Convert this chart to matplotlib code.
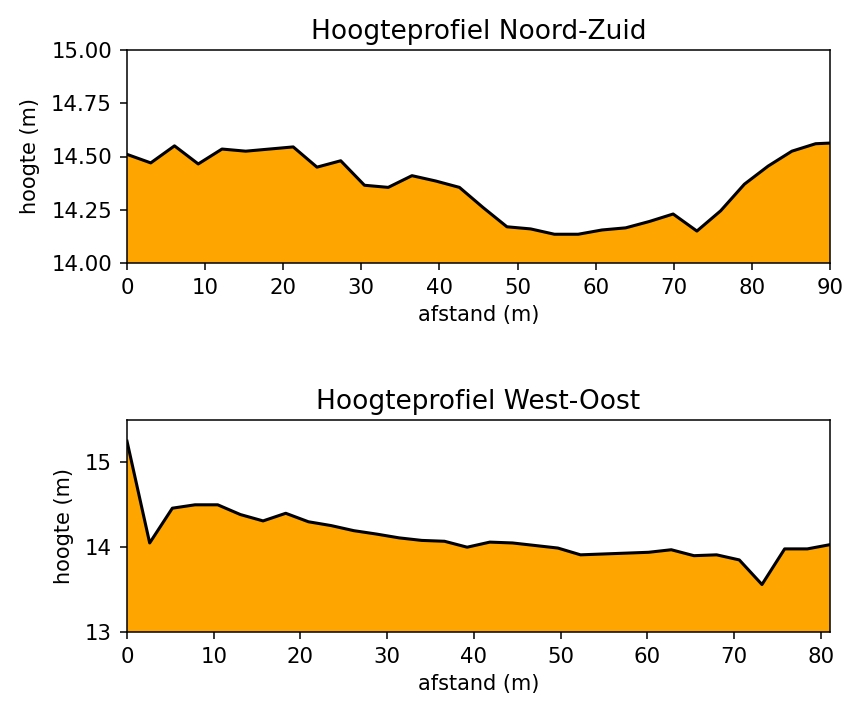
import numpy as np
import matplotlib
matplotlib.use("Agg")
import matplotlib.pyplot as plt

# Noord-Zuid profile
nz_step = 3.04
nz_height = [14.51, 14.47, 14.55, 14.465, 14.535, 14.525, 14.535, 14.545, 14.45, 14.48,
             14.365, 14.355, 14.41, 14.385, 14.355, 14.26, 14.17, 14.16, 14.135, 14.135,
             14.155, 14.165, 14.195, 14.23, 14.15, 14.245, 14.37, 14.455, 14.525, 14.56, 14.565]
nz_dist = [i * nz_step for i in range(len(nz_height))]

# West-Oost profile
wo_step = 2.615
wo_height = [15.25, 14.05, 14.46, 14.50, 14.50, 14.385, 14.31, 14.40, 14.30, 14.255,
             14.195, 14.155, 14.11, 14.08, 14.07, 14.00, 14.06, 14.05, 14.02, 13.99,
             13.91, 13.92, 13.93, 13.94, 13.97, 13.90, 13.91, 13.85, 13.56, 13.98,
             13.98, 14.03]
wo_dist = [i * wo_step for i in range(len(wo_height))]

titles = ["Hoogteprofiel Noord-Zuid", "Hoogteprofiel West-Oost"]

fig = plt.figure(figsize=(8.45, 7.02), dpi=100)
ax1 = fig.add_axes([127/845, 1-263/702, 703/845, 213/702])
ax2 = fig.add_axes([127/845, 1-632/702, 703/845, 212/702])

tick_fs = 15.3
label_fs = 15
title_fs = 19
for ax, d, h, t, ylim, xmax, yt in [
    (ax1, nz_dist, nz_height, titles[0], (14.0, 15.0), 90, [14.0, 14.25, 14.5, 14.75, 15.0]),
    (ax2, wo_dist, wo_height, titles[1], (13.0, 15.5), wo_dist[-1], [13, 14, 15]),
]:
    ax.fill_between(d, h, 0, color="orange")
    ax.plot(d, h, color="black", lw=2.2)
    ax.set_ylim(*ylim)
    ax.set_xlim(0, xmax)
    ax.set_yticks(yt)
    ax.set_title(t, fontsize=title_fs, pad=8)
    ax.set_xlabel("afstand (m)", fontsize=label_fs, labelpad=5)
    ax.set_ylabel("hoogte (m)", fontsize=label_fs, labelpad=8)
    ax.tick_params(labelsize=tick_fs, length=5.3, width=1.1, pad=5.5)
    for s in ax.spines.values():
        s.set_linewidth(1.1)

ax1.set_yticklabels(["14.00", "14.25", "14.50", "14.75", "15.00"])
ax1.set_xticks(range(0, 91, 10))
ax2.set_xticks(range(0, 81, 10))

fig.savefig("out.png", dpi=100)
